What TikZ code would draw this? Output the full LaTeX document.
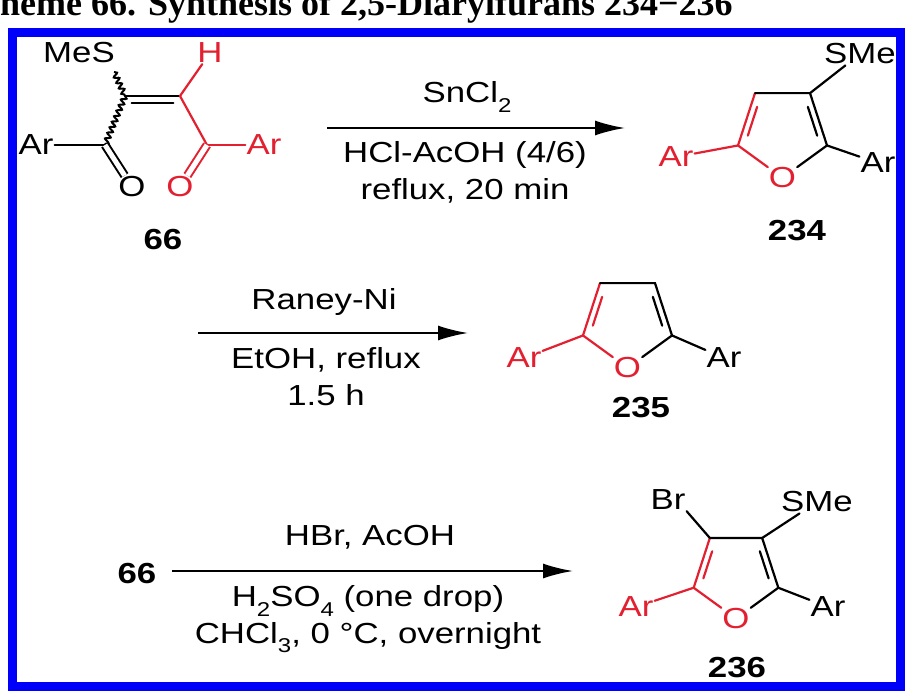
\documentclass[tikz,border=0pt]{standalone}
\usepackage{fontspec}
\setmainfont[FakeStretch=1.2]{Liberation Sans}
\newfontfamily\titlefont{Liberation Serif}
\usetikzlibrary{calc,arrows.meta,decorations.pathmorphing}
\definecolor{chred}{RGB}{226,32,48}
\definecolor{frameblue}{RGB}{0,0,250}
\newcommand{\chsub}[1]{\raisebox{-0.32em}{\fontsize{20}{20}\selectfont #1}}
\newcommand{\innerbond}[4]{%
  \path ($(#1)!0.17!(#2)$) coordinate (tA) ($(#1)!0.83!(#2)$) coordinate (tB);
  \draw[bond,#4] ($(tA)!7pt!(#3)$) -- ($(tB)!7pt!(#3)$);}
\begin{document}
\begin{tikzpicture}[x=1pt,y=-1pt,
  every node/.style={font=\fontsize{29}{32}\selectfont, inner sep=1.5pt},
  bond/.style={line width=2.2pt, line cap=round},
  dbl/.style={line width=2pt, double, double distance=5pt},
  wavy/.style={line width=2pt, decorate, decoration={snake, amplitude=2.5pt, segment length=6pt}},
  rxn/.style={line width=2.2pt, -{Latex[length=30pt,width=15pt]}},
  lbl/.style={font=\fontsize{29}{32}\selectfont\bfseries},
  cond/.style={align=center, font=\fontsize{29}{37}\selectfont},
  atom/.style={inner sep=1pt}]
\useasboundingbox (0,0) rectangle (915,695);
\clip (0,0) rectangle (915,695);
% title (cut at top)
\node[anchor=base west, inner sep=0, font=\titlefont\fontsize{36}{36}\selectfont\bfseries] (title) at (-36,16) {Scheme 66. Synthesis of 2,5-Diarylfurans 234−236};
% frame
\draw[frameblue, line width=9pt] (12.5,32.5) rectangle (900.5,686);

% ---------- compound 66 ----------
\node[atom] (mes) at (79,53) {MeS};
\node[atom, text=chred] (h) at (210,53) {H};
\coordinate (c1) at (125,96);
\coordinate (c2) at (180,96);
\coordinate (c3) at (105,145);
\coordinate (c4) at (207,145);
\coordinate (mesb) at (114,72);
\node[atom] (ar1) at (36,145) {Ar};
\node[atom, text=chred] (ar2) at (264,145) {Ar};
\node[atom] (o1) at (132,187) {O};
\node[atom, text=chred] (o2) at (180,187) {O};
\draw[wavy] (mesb) -- (c1);
\draw[wavy] (c1) -- (c3);
\draw[bond] (c1) -- (c2);
\draw[bond] ($(c1)!0.12!(c2)+(0,7)$) -- ($(c1)!0.88!(c2)+(0,7)$);
\draw[bond, chred] (c2) -- (h);
\draw[bond, chred] (c2) -- (c4);
\draw[bond] (ar1) -- (c3);
\draw[bond, chred] (c4) -- (ar2);
\draw[dbl] (c3) -- (o1);
\draw[dbl, chred] (c4) -- (o2);
\node[lbl] (l66) at (163,240) {66};

% ---------- reaction 1 ----------
\coordinate (a1s) at (327,128);
\coordinate (a1e) at (625,128);
\draw[rxn] (a1s) -- (a1e);
\node (r1a) at (467,97) {SnCl\chsub{2}};
\node[cond, anchor=north] (r1b) at (465,140) {HCl-AcOH (4/6)\\reflux, 20 min};

% ---------- furan 234 ----------
\begin{scope}[shift={(782.5,131)}]
  \coordinate (fa) at (0,0);
  \coordinate (fa5) at (162:46.8);
  \coordinate (fa4) at (234:46.8);
  \coordinate (fa3) at (306:46.8);
  \coordinate (fa2) at (18:46.8);
  \node[atom, text=chred] (fao) at (90:46.8) {O};
\end{scope}
\node[atom, text=chred] (faarl) at (676,157) {Ar};
\node[atom] (faarr) at (878,163) {Ar};
\node[atom] (fasme) at (860,54) {SMe};
\draw[bond, chred] (fao) -- (fa5) -- (fa4);
\draw[bond] (fa4) -- (fa3) -- (fa2) -- (fao);
\innerbond{fa5}{fa4}{fa}{chred}
\innerbond{fa3}{fa2}{fa}{}
\draw[bond, chred] (faarl) -- (fa5);
\draw[bond] (fa2) -- (faarr);
\draw[bond] (fa3) -- (fasme);
\node[lbl] (l234) at (797,231) {234};

% ---------- reaction 2 ----------
\coordinate (a2s) at (198,333);
\coordinate (a2e) at (468,333);
\draw[rxn] (a2s) -- (a2e);
\node (r2a) at (324,302) {Raney-Ni};
\node[cond, anchor=north] (r2b) at (326,346) {EtOH, reflux\\1.5 h};

% ---------- furan 235 ----------
\begin{scope}[shift={(627.5,321)}]
  \coordinate (fb) at (0,0);
  \coordinate (fb5) at (162:46.8);
  \coordinate (fb4) at (234:46.8);
  \coordinate (fb3) at (306:46.8);
  \coordinate (fb2) at (18:46.8);
  \node[atom, text=chred] (fbo) at (90:46.8) {O};
\end{scope}
\node[atom, text=chred] (fbarl) at (524,358) {Ar};
\node[atom] (fbarr) at (724,358) {Ar};
\draw[bond, chred] (fbo) -- (fb5) -- (fb4);
\draw[bond] (fb4) -- (fb3) -- (fb2) -- (fbo);
\innerbond{fb5}{fb4}{fb}{chred}
\innerbond{fb3}{fb2}{fb}{}
\draw[bond, chred] (fbarl) -- (fb5);
\draw[bond] (fb2) -- (fbarr);
\node[lbl] (l235) at (641,408) {235};

% ---------- reaction 3 ----------
\node[lbl] (s66) at (137,574) {66};
\coordinate (a3e) at (573,571);
\draw[rxn] ($(s66.east)+(14,-3)$) -- (a3e);
\node (r3a) at (370,537) {HBr, AcOH};
\node[cond, anchor=north] (r3b) at (368,584) {H\chsub{2}SO\chsub{4} (one drop)\\CHCl\chsub{3}, 0 °C, overnight};

% ---------- furan 236 ----------
\begin{scope}[shift={(736,574)}]
  \coordinate (fc) at (0,0);
  \coordinate (fc5) at (162:44.5);
  \coordinate (fc4) at (234:44.5);
  \coordinate (fc3) at (306:44.5);
  \coordinate (fc2) at (18:44.5);
  \node[atom, text=chred] (fco) at (90:44.5) {O};
\end{scope}
\node[atom, text=chred] (fcarl) at (636,607) {Ar};
\node[atom] (fcarr) at (828,607) {Ar};
\node[atom] (fcbr) at (668,500) {Br};
\node[atom] (fcsme) at (817,502) {SMe};
\draw[bond, chred] (fco) -- (fc5) -- (fc4);
\draw[bond] (fc4) -- (fc3) -- (fc2) -- (fco);
\innerbond{fc5}{fc4}{fc}{chred}
\innerbond{fc3}{fc2}{fc}{}
\draw[bond, chred] (fcarl) -- (fc5);
\draw[bond] (fc2) -- (fcarr);
\draw[bond] (fc4) -- (fcbr.south east);
\draw[bond] (fc3) -- (fcsme);
\node[lbl] (l236) at (737,668) {236};
\end{tikzpicture}
\end{document}
